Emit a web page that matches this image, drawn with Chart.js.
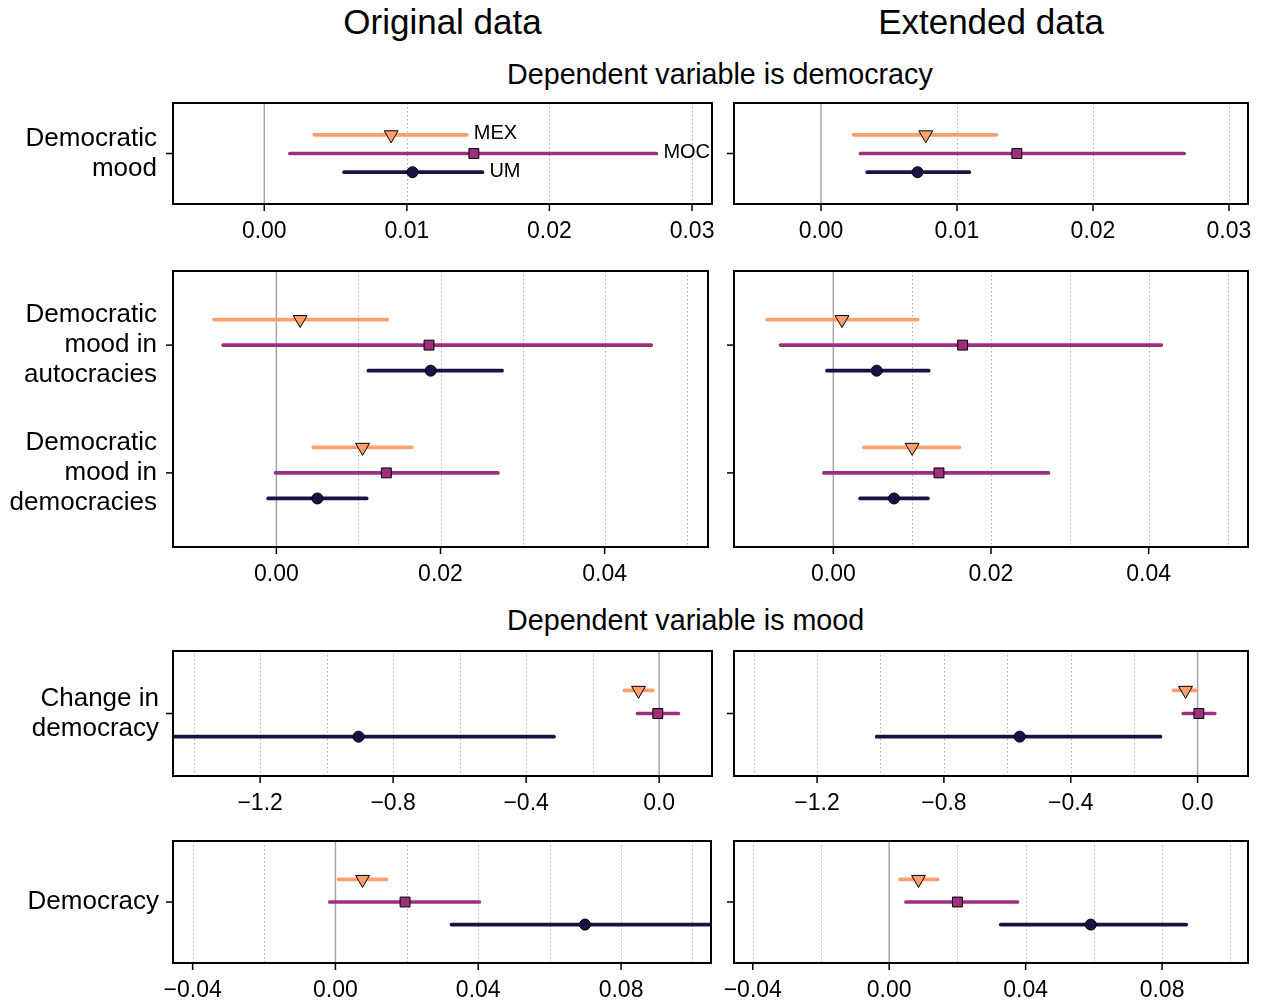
<!DOCTYPE html>
<html>
<head>
<meta charset="utf-8">
<script src="https://cdn.jsdelivr.net/npm/chart.js@4.4.1/dist/chart.umd.min.js"></script>
<style>
  body { margin: 0; background: #fff; width: 1263px; height: 1000px; position: relative; overflow: hidden;
         font-family: "Liberation Sans", Arial, sans-serif; }
  canvas { position: absolute; }
  .t { position: absolute; white-space: nowrap; color: #000; }
</style>
</head>
<body>
<div class="t" style="left:173px;width:539px;text-align:center;top:4px;font-size:35px;line-height:35px">Original data</div>
<div class="t" style="left:734px;width:514px;text-align:center;top:4px;font-size:35px;line-height:35px">Extended data</div>
<div class="t" style="left:507px;top:60px;font-size:28.7px;line-height:29px">Dependent variable is democracy</div>
<div class="t" style="left:507px;top:606px;font-size:28.7px;line-height:29px">Dependent variable is mood</div>

<script>
// series, always in this order
const seriesNames = ['MEX', 'MOC', 'UM'];

// democracy ~ democratic mood
const moodLabels = [['Democratic', 'mood']];
const moodOrigEst = [0.0089, 0.0147, 0.0104];
const moodOrigLo  = [0.0035, 0.0018, 0.0056];
const moodOrigHi  = [0.0142, 0.0275, 0.0153];
const moodExtEst  = [0.0077, 0.0144, 0.0071];
const moodExtLo   = [0.0024, 0.0029, 0.0034];
const moodExtHi   = [0.0129, 0.0267, 0.0109];

// democracy ~ mood by regime type, one [MEX, MOC, UM] row per category
const regimeLabels = [['Democratic', 'mood in', 'autocracies'], ['Democratic', 'mood in', 'democracies']];
const regimeOrigEst = [[0.0029, 0.0186, 0.0188], [0.0105, 0.0134, 0.0050]];
const regimeOrigLo  = [[-0.0076, -0.0065, 0.0112], [0.0045, -0.0001, -0.0010]];
const regimeOrigHi  = [[0.0135, 0.0457, 0.0275], [0.0165, 0.0270, 0.0110]];
const regimeExtEst  = [[0.0011, 0.0164, 0.0055], [0.0100, 0.0134, 0.0077]];
const regimeExtLo   = [[-0.0084, -0.0067, -0.0008], [0.0039, -0.0012, 0.0034]];
const regimeExtHi   = [[0.0107, 0.0416, 0.0121], [0.0160, 0.0273, 0.0120]];

// mood ~ change in democracy
const changeLabels = [['Change in', 'democracy']];
const changeOrigEst = [-0.062, -0.004, -0.904];
const changeOrigLo  = [-0.104, -0.065, -1.492];
const changeOrigHi  = [-0.019, 0.058, -0.316];
const changeExtEst  = [-0.038, 0.004, -0.561];
const changeExtLo   = [-0.076, -0.045, -1.012];
const changeExtHi   = [-0.003, 0.054, -0.117];

// mood ~ democracy
const levelLabels = ['Democracy'];
const levelOrigEst = [0.0076, 0.0195, 0.0699];
const levelOrigLo  = [0.0009, -0.0016, 0.0325];
const levelOrigHi  = [0.0143, 0.0403, 0.1073];
const levelExtEst  = [0.0086, 0.0200, 0.0591];
const levelExtLo   = [0.0032, 0.0049, 0.0327];
const levelExtHi   = [0.0142, 0.0376, 0.0871];

// axis ticks (labelled), dotted grid and limits
const moodTicks = [0, 0.01, 0.02, 0.03];
const moodGrid = [0.01, 0.02, 0.03];
const moodRange = [-0.0064, 0.0314];
const regimeTicks = [0, 0.02, 0.04];
const regimeGrid = [0.01, 0.02, 0.03, 0.04, 0.05];
const regimeRange = [-0.0126, 0.0526];
const changeTicks = [-1.2, -0.8, -0.4, 0];
const changeGrid = [-1.4, -1.2, -1.0, -0.8, -0.6, -0.4, -0.2];
const changeRange = [-1.462, 0.159];
const levelTicks = [-0.04, 0, 0.04, 0.08];
const levelGrid = [-0.04, -0.02, 0.02, 0.04, 0.06, 0.08, 0.10];
const levelRange = [-0.0455, 0.1052];

// styles
const seriesColors = ['#FEA06D', '#9E2F7F', '#1C1044'];
const seriesOffsets = [-0.2, 0, 0.2];
const markerStyles = ['triangle', 'rect', 'circle'];
const markerRotation = [180, 0, 0];
const markerRadius = [8, 7, 5.5];

Chart.defaults.font.family = '"Liberation Sans", Arial, sans-serif';
Chart.defaults.color = '#000';

const wrap = a => (Array.isArray(a[0]) ? a : [a]);

function buildDatasets(est, lo, hi) {
  est = wrap(est); lo = wrap(lo); hi = wrap(hi);
  const ds = [];
  seriesNames.forEach((name, s) => {
    est.forEach((row, c) => {
      const y = c + 1 + seriesOffsets[s];
      ds.push({
        data: [{ x: lo[c][s], y: y }, { x: hi[c][s], y: y }],
        showLine: true, borderColor: seriesColors[s], borderWidth: 3.7,
        borderCapStyle: 'round', pointRadius: 0, order: 2
      });
    });
    ds.push({
      data: est.map((row, c) => ({ x: row[s], y: c + 1 + seriesOffsets[s] })),
      pointStyle: markerStyles[s], rotation: markerRotation[s],
      pointRadius: markerRadius[s], backgroundColor: seriesColors[s],
      borderColor: '#000', borderWidth: 1, order: 1
    });
  });
  return ds;
}

const panelPlugin = {
  id: 'panel',
  beforeDatasetsDraw(chart, args, opts) {
    const { ctx, chartArea: a, scales: { x } } = chart;
    ctx.save();
    ctx.strokeStyle = '#b4b4b4';
    ctx.lineWidth = 1;
    ctx.setLineDash([1.5, 2.5]);
    opts.grid.forEach(v => {
      const px = Math.round(x.getPixelForValue(v)) + 0.5;
      ctx.beginPath(); ctx.moveTo(px, a.top); ctx.lineTo(px, a.bottom); ctx.stroke();
    });
    ctx.setLineDash([]);
    ctx.strokeStyle = '#a6a6a6';
    ctx.lineWidth = 1.5;
    const z = x.getPixelForValue(0);
    ctx.beginPath(); ctx.moveTo(z, a.top); ctx.lineTo(z, a.bottom); ctx.stroke();
    ctx.restore();
  },
  afterDatasetsDraw(chart, args, opts) {
    const { ctx, chartArea: a, scales: { x, y } } = chart;
    ctx.save();
    ctx.strokeStyle = '#000';
    ctx.lineWidth = 2;
    ctx.strokeRect(a.left, a.top, a.right - a.left, a.bottom - a.top);
    ctx.lineWidth = 1.5;
    opts.ticks.forEach(v => {
      const px = x.getPixelForValue(v);
      ctx.beginPath(); ctx.moveTo(px, a.bottom); ctx.lineTo(px, a.bottom + 7); ctx.stroke();
    });
    opts.cats.forEach(v => {
      const py = y.getPixelForValue(v);
      ctx.beginPath(); ctx.moveTo(a.left - 7, py); ctx.lineTo(a.left, py); ctx.stroke();
    });
    if (opts.annotate) {
      ctx.font = '20px "Liberation Sans", Arial, sans-serif';
      ctx.fillStyle = '#000';
      ctx.textBaseline = 'middle';
      ctx.textAlign = 'left';
      seriesNames.forEach((name, s) => {
        const px = x.getPixelForValue(opts.annotate[0][s]) + 7;
        const py = y.getPixelForValue(1 + seriesOffsets[s]) - 1;
        ctx.fillText(name, px, py);
      });
    }
    ctx.restore();
  }
};

function fmt(v, dec) {
  return Number(v).toFixed(dec).replace('-', '\u2212').replace(/^\u22120\.0+$/, m => m.slice(1));
}

function noPadding(s) {
  s.paddingTop = 0; s.paddingBottom = 0; s.paddingLeft = 0; s.paddingRight = 0;
}

// layout table: rows (box top/bottom, label gap) and columns (box left/right)
const rows = [
  { top: 100, bottom: 204, gap: 16 },
  { top: 268, bottom: 547, gap: 16 },
  { top: 648, bottom: 776, gap: 14 },
  { top: 838, bottom: 963, gap: 14 }
];
const cols = [
  { canvasLeft: 0, canvasWidth: 730, rights: [712, 708, 712, 711], left: 173, labels: true },
  { canvasLeft: 712, canvasWidth: 551, rights: [1248, 1248, 1248, 1248], left: 734, labels: false }
];

const panels = [
  { row: 0, col: 0, labels: moodLabels, est: moodOrigEst, lo: moodOrigLo, hi: moodOrigHi, ticks: moodTicks, grid: moodGrid, range: moodRange, dec: 2, annotate: true },
  { row: 0, col: 1, labels: moodLabels, est: moodExtEst, lo: moodExtLo, hi: moodExtHi, ticks: moodTicks, grid: moodGrid, range: moodRange, dec: 2 },
  { row: 1, col: 0, labels: regimeLabels, est: regimeOrigEst, lo: regimeOrigLo, hi: regimeOrigHi, ticks: regimeTicks, grid: regimeGrid, range: regimeRange, dec: 2 },
  { row: 1, col: 1, labels: regimeLabels, est: regimeExtEst, lo: regimeExtLo, hi: regimeExtHi, ticks: regimeTicks, grid: regimeGrid, range: regimeRange, dec: 2 },
  { row: 2, col: 0, labels: changeLabels, est: changeOrigEst, lo: changeOrigLo, hi: changeOrigHi, ticks: changeTicks, grid: changeGrid, range: changeRange, dec: 1 },
  { row: 2, col: 1, labels: changeLabels, est: changeExtEst, lo: changeExtLo, hi: changeExtHi, ticks: changeTicks, grid: changeGrid, range: changeRange, dec: 1 },
  { row: 3, col: 0, labels: levelLabels, est: levelOrigEst, lo: levelOrigLo, hi: levelOrigHi, ticks: levelTicks, grid: levelGrid, range: levelRange, dec: 2 },
  { row: 3, col: 1, labels: levelLabels, est: levelExtEst, lo: levelExtLo, hi: levelExtHi, ticks: levelTicks, grid: levelGrid, range: levelRange, dec: 2 }
];

panels.forEach(p => {
  const r = rows[p.row], c = cols[p.col];
  const padTop = 6, axisH = 46;
  const canvas = document.createElement('canvas');
  const h = (r.bottom - r.top) + padTop + axisH;
  canvas.width = c.canvasWidth; canvas.height = h;
  canvas.style.left = c.canvasLeft + 'px';
  canvas.style.top = (r.top - padTop) + 'px';
  canvas.style.width = c.canvasWidth + 'px';
  canvas.style.height = h + 'px';
  document.body.appendChild(canvas);

  const n = p.labels.length;
  const cats = p.labels.map((l, i) => i + 1);

  new Chart(canvas, {
    type: 'scatter',
    data: { datasets: buildDatasets(p.est, p.lo, p.hi) },
    options: {
      responsive: false,
      animation: false,
      devicePixelRatio: 1,
      layout: { padding: { top: padTop, left: 0, bottom: 0, right: c.canvasLeft + c.canvasWidth - c.rights[p.row] } },
      plugins: {
        legend: { display: false },
        tooltip: { enabled: false },
        panel: { grid: p.grid, ticks: p.ticks, cats: cats, annotate: p.annotate ? wrap(p.hi) : null }
      },
      scales: {
        x: {
          type: 'linear', min: p.range[0], max: p.range[1],
          grid: { display: false, drawTicks: false }, border: { display: false },
          afterBuildTicks: s => { s.ticks = p.ticks.map(v => ({ value: v })); },
          afterFit: s => { s.height = axisH; noPadding(s); },
          ticks: { font: { size: 23 }, padding: 14, maxRotation: 0, autoSkip: false,
                   callback: v => fmt(v, p.dec) }
        },
        y: {
          type: 'linear', reverse: true, min: 0.5 - 0.04 * n, max: n + 0.5 + 0.04 * n,
          grid: { display: false, drawTicks: false }, border: { display: false },
          afterBuildTicks: s => { s.ticks = cats.map(v => ({ value: v })); },
          afterFit: s => { s.width = c.left - c.canvasLeft; noPadding(s); },
          ticks: { display: c.labels, font: { size: 26, lineHeight: 1.15 }, padding: r.gap, autoSkip: false,
                   callback: (v, i) => p.labels[i] }
        }
      }
    },
    plugins: [panelPlugin]
  });
});
</script>
</body>
</html>
